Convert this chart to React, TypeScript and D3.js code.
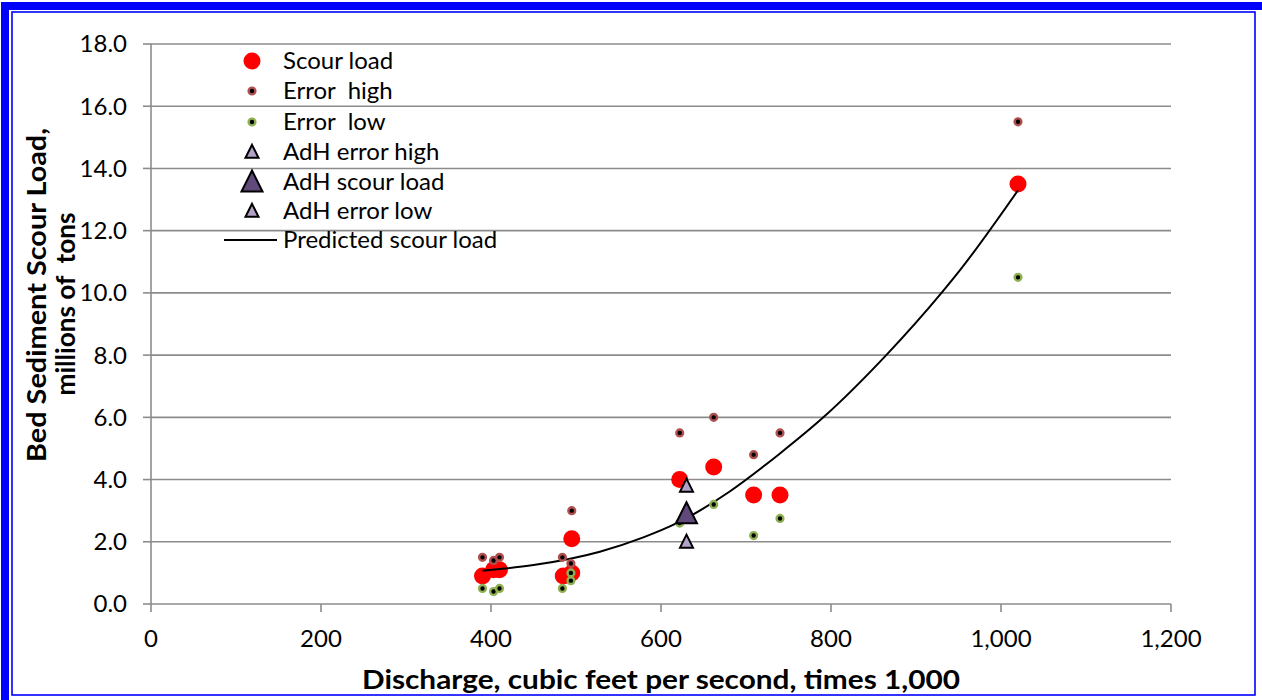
import React from 'react';
import * as d3 from 'd3';

// ---------- data ----------
const scourQ = [390, 403, 410, 485, 495, 495, 622, 662, 709, 740, 1020];
const scourL = [0.9, 1.1, 1.1, 0.9, 1.0, 2.1, 4.0, 4.4, 3.5, 3.5, 13.5];

const errHighQ = [390, 403, 410, 484, 494, 495, 622, 662, 709, 740, 1020];
const errHighL = [1.5, 1.4, 1.5, 1.5, 1.3, 3.0, 5.5, 6.0, 4.8, 5.5, 15.5];

const errLowQ = [390, 403, 410, 484, 494, 494, 622, 662, 709, 740, 1020];
const errLowL = [0.5, 0.4, 0.5, 0.5, 1.0, 0.75, 2.6, 3.2, 2.2, 2.75, 10.5];

const adhQ = [630];
const adhHighL = [3.8];
const adhLoadL = [2.9];
const adhLowL = [2.0];

const predQ = [390, 450, 528, 580, 618, 680, 740, 791, 865, 930, 952, 1020];
const predL = [1.07, 1.25, 1.68, 2.15, 2.59, 3.6, 4.84, 6.0, 8.0, 10.0, 10.74, 13.3];

const xTicks = [0, 200, 400, 600, 800, 1000, 1200];
const yTicks = [0, 2, 4, 6, 8, 10, 12, 14, 16, 18];

const legendLabels = [
  'Scour load',
  'Error  high',
  'Error  low',
  'AdH error high',
  'AdH scour load',
  'AdH error low',
  'Predicted scour load',
];

// ---------- layout ----------
const W = 1262;
const H = 700;
const FONT = 'Lato, "Open Sans", sans-serif';

const x = d3.scaleLinear().domain([0, 1200]).range([151, 1171]);
const y = d3.scaleLinear().domain([0, 18]).range([604, 44]);

const fmtX = d3.format(',');
const fmtY = d3.format('.1f');

// triangle symbol with height equal to width
const squareTri = {
  draw(ctx: any, size: number) {
    const w = Math.sqrt(size);
    const h = w;
    ctx.moveTo(0, -h * 0.55);
    ctx.lineTo(w / 2, h * 0.45);
    ctx.lineTo(-w / 2, h * 0.45);
    ctx.closePath();
  },
};
const smallTri = d3.symbol(squareTri as any, 13 * 13)()!;
const bigTri = d3.symbol(squareTri as any, 21 * 21)()!;

const line = d3
  .line<number>()
  .x((_, i) => x(predQ[i]))
  .y((d) => y(d))
  .curve(d3.curveMonotoneX);

const RED = '#FF0000';
const HIGH_RING = '#B0504E';
const LOW_RING = '#8DB053';
const TRI_LIGHT = '#B3A2C7';
const TRI_DARK = '#604A7B';
const GRID = '#8C8C8C';

function ErrDot({ cx, cy, ring }: { cx: number; cy: number; ring: string }) {
  return <circle cx={cx} cy={cy} r={3.4} fill="#000" stroke={ring} strokeWidth={2.4} />;
}

export default function App() {
  const legendX = 252;
  const legendTextX = 283;
  const legendY = [61, 91, 122, 152, 182, 211, 240];

  return (
    <svg
      width={W}
      height={H}
      style={{ position: 'absolute', left: 0, top: 0, background: '#fff' }}
      fontFamily={FONT}
    >
      <rect x={0} y={0} width={W} height={H} fill="#fff" />
      {/* frame */}
      <rect x={5} y={6} width={W} height={H} fill="none" stroke="#0000FF" strokeWidth={8} />
      <rect x={12} y={12} width={1255 - 12} height={695 - 12} fill="none" stroke="#0000FF" strokeWidth={1.6} />

      {/* gridlines */}
      {yTicks
        .filter((t) => t > 0)
        .map((t) => (
          <line key={'g' + t} x1={x(0)} x2={x(1200)} y1={y(t)} y2={y(t)} stroke={GRID} strokeWidth={1.6} />
        ))}

      {/* axes */}
      <line x1={x(0)} x2={x(0)} y1={y(0)} y2={y(18)} stroke={GRID} strokeWidth={1.6} />
      <line x1={x(0)} x2={x(1200)} y1={y(0)} y2={y(0)} stroke={GRID} strokeWidth={1.6} />
      {yTicks.map((t) => (
        <g key={'yt' + t}>
          <line x1={x(0) - 8} x2={x(0)} y1={y(t)} y2={y(t)} stroke={GRID} strokeWidth={1.6} />
          <text x={127} y={y(t)} dy="0.35em" textAnchor="end" fontSize={24} fill="#000">
            {fmtY(t)}
          </text>
        </g>
      ))}
      {xTicks.map((t) => (
        <g key={'xt' + t}>
          <line x1={x(t)} x2={x(t)} y1={y(0)} y2={y(0) + 8} stroke={GRID} strokeWidth={1.6} />
          <text x={x(t)} y={647} textAnchor="middle" fontSize={24} fill="#000">
            {fmtX(t)}
          </text>
        </g>
      ))}

      {/* axis titles */}
      <text
        x={661}
        y={689}
        textAnchor="middle"
        fontSize={27}
        fontWeight="bold"
        fill="#000"
        textLength={598}
        lengthAdjust="spacingAndGlyphs"
      >
        Discharge, cubic feet per second, times 1,000
      </text>
      <g transform="translate(37,295) rotate(-90)">
        <text
          x={0}
          y={0}
          dy="0.35em"
          textAnchor="middle"
          fontSize={27}
          fontWeight="bold"
          fill="#000"
          textLength={334}
          lengthAdjust="spacingAndGlyphs"
        >
          Bed Sediment Scour Load,
        </text>
      </g>
      <g transform="translate(66,304) rotate(-90)">
        <text
          x={0}
          y={0}
          dy="0.35em"
          textAnchor="middle"
          fontSize={27}
          fontWeight="bold"
          fill="#000"
          textLength={183}
          lengthAdjust="spacingAndGlyphs"
          style={{ whiteSpace: 'pre' }}
        >
          {'millions of  tons'}
        </text>
      </g>

      {/* scour load */}
      {scourQ.map((q, i) => (
        <circle key={'s' + i} cx={x(q)} cy={y(scourL[i])} r={8.5} fill={RED} />
      ))}

      {/* predicted line */}
      <path d={line(predL)!} fill="none" stroke="#000" strokeWidth={2} />

      {/* error high / low */}
      {errHighQ.map((q, i) => (
        <ErrDot key={'h' + i} cx={x(q)} cy={y(errHighL[i])} ring={HIGH_RING} />
      ))}
      {errLowQ.map((q, i) => (
        <ErrDot key={'l' + i} cx={x(q)} cy={y(errLowL[i])} ring={LOW_RING} />
      ))}

      {/* AdH */}
      {adhQ.map((q, i) => (
        <g key={'a' + i}>
          <path d={smallTri} transform={`translate(${x(q)},${y(adhHighL[i])})`} fill={TRI_LIGHT} stroke="#000" strokeWidth={2} />
          <path d={bigTri} transform={`translate(${x(q)},${y(adhLoadL[i])})`} fill={TRI_DARK} stroke="#000" strokeWidth={2} />
          <path d={smallTri} transform={`translate(${x(q)},${y(adhLowL[i])})`} fill={TRI_LIGHT} stroke="#000" strokeWidth={2} />
        </g>
      ))}

      {/* legend */}
      <g>
        <circle cx={legendX} cy={legendY[0]} r={8.5} fill={RED} />
        <ErrDot cx={legendX} cy={legendY[1]} ring={HIGH_RING} />
        <ErrDot cx={legendX} cy={legendY[2]} ring={LOW_RING} />
        <path d={smallTri} transform={`translate(${legendX},${legendY[3]})`} fill={TRI_LIGHT} stroke="#000" strokeWidth={2} />
        <path d={bigTri} transform={`translate(${legendX},${legendY[4]})`} fill={TRI_DARK} stroke="#000" strokeWidth={2} />
        <path d={smallTri} transform={`translate(${legendX},${legendY[5]})`} fill={TRI_LIGHT} stroke="#000" strokeWidth={2} />
        <line x1={224} x2={277} y1={legendY[6]} y2={legendY[6]} stroke="#000" strokeWidth={1.8} />
        {legendLabels.map((lab, i) => (
          <text key={lab} x={legendTextX} y={legendY[i]} dy="0.35em" fontSize={24} fill="#000" style={{ whiteSpace: 'pre' }}>
            {lab}
          </text>
        ))}
      </g>
    </svg>
  );
}
